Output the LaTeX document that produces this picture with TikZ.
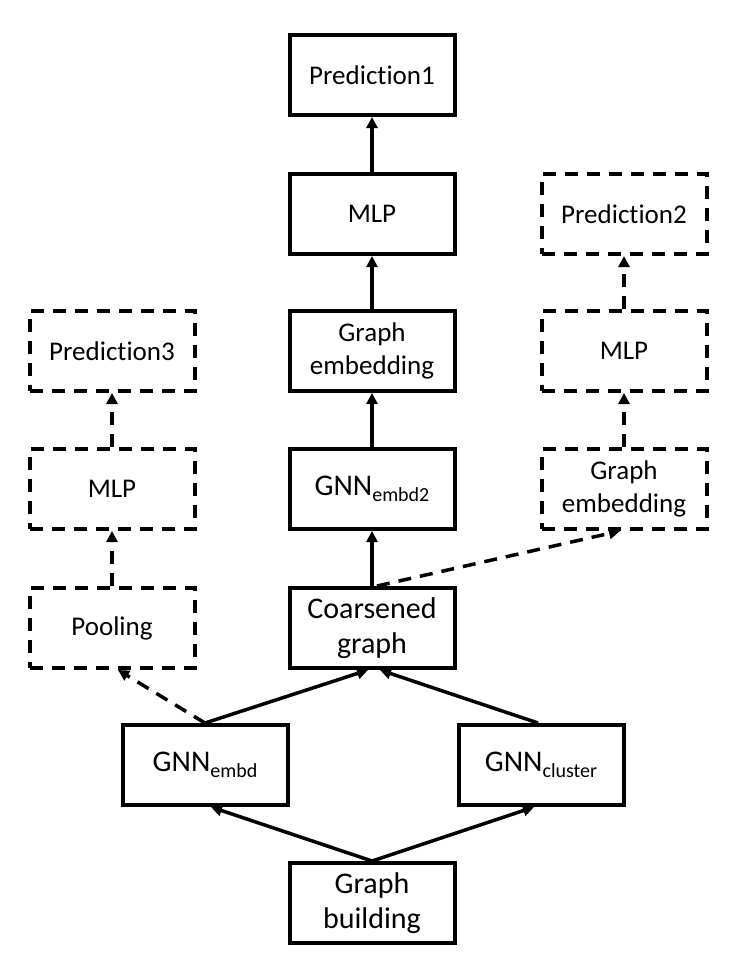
\documentclass[tikz,border=0pt]{standalone}
\usepackage{fontspec}
\setmainfont{Carlito}[Ligatures=NoCommon]
\usetikzlibrary{arrows.meta}
\newcommand{\mysub}[1]{\raisebox{-6pt}{\fontsize{20}{20}\selectfont #1}}
\begin{document}
\begin{tikzpicture}[x=1pt,y=-1pt,
 box/.style={draw, line width=4pt, minimum width=165pt, minimum height=80pt, inner sep=0pt, align=center, font=\fontsize{27}{33}\selectfont},
 bigtext/.style={font=\fontsize{30}{35}\selectfont},
 dbox/.style={box, dash pattern=on 13pt off 9pt},
 arr/.style={line width=3.5pt, -{Triangle[length=11pt,width=11pt]}},
 darr/.style={arr, dash pattern=on 13pt off 9pt}]
\fill[white] (0,0) rectangle (744,974);
\useasboundingbox (0,0) rectangle (744,974);
% centre column
\node[box] (pred1) at (372,75) {Prediction1};
\node[box] (mlp1) at (372,214) {MLP};
\node[box] (ge1) at (372,351) {Graph\\embedding};
\node[box, bigtext] (gnn2) at (372,489) {GNN\mysub{embd2}};
\node[box, bigtext] (coarse) at (372,628) {Coarsened\\graph};
\node[box, bigtext] (embd) at (205,765) {GNN\mysub{embd}};
\node[box, bigtext] (clus) at (541,765) {GNN\mysub{cluster}};
\node[box, bigtext] (build) at (372,903) {Graph\\building};
% right column
\node[dbox] (pred2) at (624,214) {Prediction2};
\node[dbox] (mlp2) at (624,351) {MLP};
\node[dbox] (ge2) at (624,489) {Graph\\embedding};
% left column
\node[dbox] (pred3) at (112,351) {Prediction3};
\node[dbox] (mlp3) at (112,489) {MLP};
\node[dbox] (pool) at (112,628) {Pooling};
% solid arrows
\draw[arr] (build.north) -- ([xshift=6pt]embd.south);
\draw[arr] (build.north) -- ([xshift=-7pt]clus.south);
\draw[arr] (embd.north) -- ([xshift=-4pt]coarse.south);
\draw[arr] ([xshift=-3pt]clus.north) -- ([xshift=8pt]coarse.south);
\draw[arr] (coarse.north) -- (gnn2.south);
\draw[arr] (gnn2.north) -- (ge1.south);
\draw[arr] (ge1.north) -- (mlp1.south);
\draw[arr] (mlp1.north) -- (pred1.south);
% dashed arrows
\draw[darr] (embd.north) -- ([xshift=6pt]pool.south);
\draw[darr] ([xshift=5pt]coarse.north) -- ([xshift=-4pt]ge2.south);
\draw[darr] (pool.north) -- (mlp3.south);
\draw[darr] (mlp3.north) -- (pred3.south);
\draw[darr] (ge2.north) -- (mlp2.south);
\draw[darr] (mlp2.north) -- (pred2.south);
\end{tikzpicture}
\end{document}
